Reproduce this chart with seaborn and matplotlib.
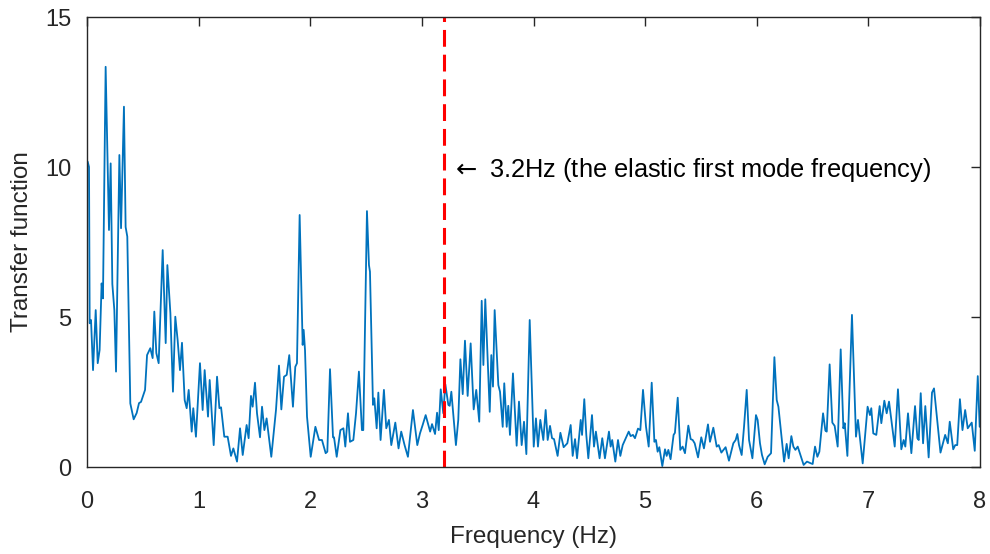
import matplotlib
matplotlib.use("Agg")
import matplotlib.pyplot as plt
import seaborn as sns
import pandas as pd

# Frequency (Hz) and transfer function vertices
freq = [
    0.006, 0.018, 0.024, 0.036, 0.054, 0.078, 0.096, 0.113, 0.131, 0.143,
    0.167, 0.197, 0.212, 0.227, 0.245, 0.260, 0.290, 0.305, 0.331, 0.346,
    0.361, 0.388, 0.418, 0.445, 0.466, 0.484, 0.520, 0.538, 0.567, 0.588,
    0.603, 0.621, 0.642, 0.678, 0.705, 0.720, 0.747, 0.770, 0.791, 0.812,
    0.833, 0.851, 0.875, 0.893, 0.911, 0.938, 0.952, 0.976,
    1.012, 1.036, 1.054, 1.084, 1.099, 1.135, 1.165, 1.186, 1.201, 1.230,
    1.260, 1.290, 1.311, 1.344, 1.371, 1.395, 1.430, 1.448, 1.469, 1.484,
    1.505, 1.523, 1.550, 1.568, 1.589, 1.609, 1.627, 1.651, 1.693, 1.720,
    1.741, 1.765, 1.789, 1.812, 1.845, 1.866, 1.881, 1.905, 1.932, 1.941,
    1.953, 1.971,
    2.004, 2.046, 2.079, 2.105, 2.138, 2.153, 2.177, 2.204, 2.213, 2.237,
    2.270, 2.297, 2.314, 2.338, 2.356, 2.386, 2.410, 2.436, 2.463, 2.475,
    2.508, 2.526, 2.535, 2.562, 2.574, 2.595, 2.610, 2.630, 2.660, 2.681,
    2.705, 2.726, 2.762, 2.791, 2.815, 2.845, 2.875, 2.920, 2.959,
    2.983, 3.007, 3.034, 3.074, 3.091, 3.118, 3.136, 3.151, 3.169, 3.192,
    3.210, 3.237, 3.249, 3.264, 3.305, 3.326, 3.345, 3.366, 3.386, 3.410,
    3.437, 3.464, 3.487, 3.514, 3.536, 3.551, 3.568, 3.608, 3.622, 3.637,
    3.652, 3.685, 3.700, 3.724, 3.738, 3.760, 3.774, 3.789, 3.816, 3.849,
    3.870, 3.894, 3.915, 3.936, 3.966,
    4.002, 4.022, 4.040, 4.061, 4.088, 4.109, 4.127, 4.148, 4.166, 4.184,
    4.216, 4.241, 4.270, 4.303, 4.333, 4.351, 4.372, 4.390, 4.423, 4.435,
    4.455, 4.473, 4.491, 4.524, 4.542, 4.559, 4.592, 4.616, 4.640, 4.676,
    4.691, 4.705, 4.733, 4.757, 4.778, 4.799, 4.853, 4.870, 4.891, 4.909,
    4.936, 4.957, 4.981,
    5.008, 5.032, 5.059, 5.083, 5.097, 5.112, 5.127, 5.154, 5.178, 5.193,
    5.208, 5.228, 5.255, 5.267, 5.292, 5.315, 5.336, 5.357, 5.387, 5.408,
    5.426, 5.444, 5.474, 5.503, 5.527, 5.563, 5.581, 5.611, 5.641, 5.659,
    5.683, 5.721, 5.751, 5.790, 5.811, 5.826, 5.841, 5.865, 5.886, 5.910,
    5.931, 5.961,
    5.993, 6.008, 6.029, 6.047, 6.071, 6.098, 6.128, 6.158, 6.179, 6.194,
    6.245, 6.268, 6.286, 6.310, 6.328, 6.346, 6.367, 6.420, 6.450, 6.486,
    6.501, 6.522, 6.543, 6.561, 6.594, 6.615, 6.627, 6.653, 6.677, 6.698,
    6.725, 6.752, 6.776, 6.788, 6.812, 6.853, 6.889, 6.907, 6.949, 6.993,
    7.014, 7.026, 7.044, 7.071, 7.101, 7.116, 7.143, 7.164, 7.185, 7.236,
    7.265, 7.295, 7.316, 7.331, 7.355, 7.385, 7.418, 7.439, 7.451, 7.469,
    7.490, 7.510, 7.540, 7.570, 7.588, 7.646, 7.688, 7.712, 7.729, 7.760,
    7.778, 7.796, 7.820, 7.843, 7.867, 7.890, 7.926, 7.953, 7.980, 7.997,
]

transfer = [
    10.18, 10.0, 4.79, 4.9, 3.23, 5.23, 3.46, 3.9, 6.12, 5.62,
    13.34, 7.9, 10.12, 6.1, 5.23, 3.18, 10.4, 7.96, 12.01, 8.0,
    7.68, 2.12, 1.59, 1.8, 2.13, 2.17, 2.57, 3.73, 3.96, 3.63,
    5.18, 3.8, 3.46, 7.23, 4.13, 6.73, 5.13, 2.51, 5.01, 4.23,
    3.23, 4.14, 2.23, 1.96, 2.57, 1.18, 1.96, 1.01,
    3.46, 1.9, 3.23, 1.68, 2.9, 0.73, 3.01, 1.96, 1.99, 1.01,
    1.01, 0.37, 0.62, 0.18, 1.29, 0.40, 1.40, 0.96, 2.37, 2.01,
    2.81, 1.79, 0.99, 2.01, 1.23, 1.62, 1.07, 0.34, 1.9, 3.38,
    1.92, 3.01, 3.07, 3.73, 2.01, 3.34, 3.46, 8.4, 4.07, 4.57,
    3.9, 1.68,
    0.34, 1.34, 0.9, 0.9, 0.46, 0.51, 3.26, 0.99, 0.99, 0.34,
    1.23, 1.29, 0.68, 1.79, 0.84, 0.9, 1.79, 3.18, 1.23, 1.23,
    8.53, 6.73, 6.51, 2.07, 2.29, 1.29, 2.48, 0.9, 2.57, 1.29,
    1.57, 0.73, 1.48, 0.62, 1.18, 0.73, 0.34, 1.9, 0.73,
    1.12, 1.40, 1.73, 1.18, 1.43, 1.1, 1.81, 1.23, 2.59, 1.79,
    2.76, 2.07, 2.04, 2.51, 0.73, 1.57, 3.59, 2.43, 4.21, 2.37,
    4.12, 1.92, 2.57, 1.51, 5.54, 3.4, 5.59, 1.84, 3.73, 2.68,
    5.23, 2.73, 2.51, 1.34, 2.79, 1.34, 2.04, 1.07, 3.12, 0.71,
    2.18, 0.73, 1.51, 0.43, 4.9,
    0.68, 1.62, 0.68, 1.57, 0.9, 1.9, 0.9, 1.37, 0.96, 0.93,
    0.37, 1.14, 0.66, 0.79, 1.40, 0.37, 0.93, 0.29, 1.57, 1.07,
    2.26, 1.07, 0.29, 1.73, 0.68, 1.18, 0.29, 0.96, 0.29, 1.18,
    0.68, 0.9, 0.18, 0.9, 0.37, 0.73, 1.18, 1.03, 1.07, 0.96,
    1.28, 1.23, 2.57,
    1.34, 0.68, 2.81, 0.84, 0.9, 0.51, 0.66, 0.03, 0.59, 0.37,
    0.57, 0.26, 1.07, 1.14, 2.31, 0.57, 0.68, 0.46, 1.38, 0.93,
    0.9, 0.79, 0.32, 0.99, 0.62, 1.42, 0.84, 1.31, 0.68, 0.73,
    0.48, 0.66, 0.21, 0.79, 0.9, 1.1, 0.73, 0.40, 1.34, 2.57,
    0.9, 0.29,
    1.73, 1.57, 0.79, 0.4, 0.09, 0.34, 0.46, 3.66, 2.23, 2.01,
    0.18, 0.77, 0.29, 1.03, 0.68, 0.57, 0.68, 0.07, 0.18, 0.12,
    0.1, 0.68, 0.34, 0.51, 1.79, 1.21, 1.18, 3.42, 1.48, 1.37,
    0.68, 3.92, 1.29, 1.46, 0.37, 5.07, 1.01, 1.57, 0.12, 2.01,
    1.73, 1.96, 1.12, 1.07, 2.03, 1.46, 2.21, 1.79, 2.18, 0.68,
    2.59, 0.59, 0.9, 0.68, 1.79, 0.46, 2.03, 0.96, 0.9, 2.46,
    0.79, 2.03, 0.32, 2.48, 2.62, 0.48, 1.07, 0.79, 1.51, 0.59,
    0.73, 0.73, 2.26, 1.23, 1.9, 1.29, 1.48, 0.54, 3.03, 1.34,
]

mode_freq = 3.2
annotation = r"$\leftarrow$ 3.2Hz (the elastic first mode frequency)"
x_ticks = [0, 1, 2, 3, 4, 5, 6, 7, 8]
y_ticks = [0, 5, 10, 15]

sns.set_style("white")
plt.rcParams["font.family"] = ["Liberation Sans", "DejaVu Sans"]
plt.rcParams["mathtext.fontset"] = "dejavusans"

df = pd.DataFrame({"Frequency (Hz)": freq, "Transfer function": transfer})

fig = plt.figure(figsize=(9.9, 5.54), dpi=100)
ax = fig.add_axes([87 / 990, 1 - 467 / 554, (980 - 87) / 990, (467 - 17) / 554])

sns.lineplot(data=df, x="Frequency (Hz)", y="Transfer function", ax=ax,
             sort=False, estimator=None, color="#0072BD", linewidth=1.3)
ax.axvline(mode_freq, color="#FF0000", linewidth=2.2, linestyle=(0, (5.5, 2.6)))

ax.text(3.26, 9.9, annotation, fontsize=18.3, color="#000000",
        ha="left", va="center")

ax.set_xlim(0, 8)
ax.set_ylim(0, 15)
ax.set_xticks(x_ticks)
ax.set_yticks(y_ticks)
ax.set_xlabel("Frequency (Hz)", fontsize=17.5, color="#262626", labelpad=10)
ax.set_ylabel("Transfer function", fontsize=17.5, color="#262626", labelpad=9)
ax.tick_params(direction="in", length=6.5, width=1, colors="#262626",
               labelsize=17, top=True, right=True)
ax.tick_params(axis="x", pad=17)
ax.tick_params(axis="y", pad=11)
for s in ax.spines.values():
    s.set_visible(True)
    s.set_color("#262626")
    s.set_linewidth(1)

fig.savefig("out.png", dpi=100)
